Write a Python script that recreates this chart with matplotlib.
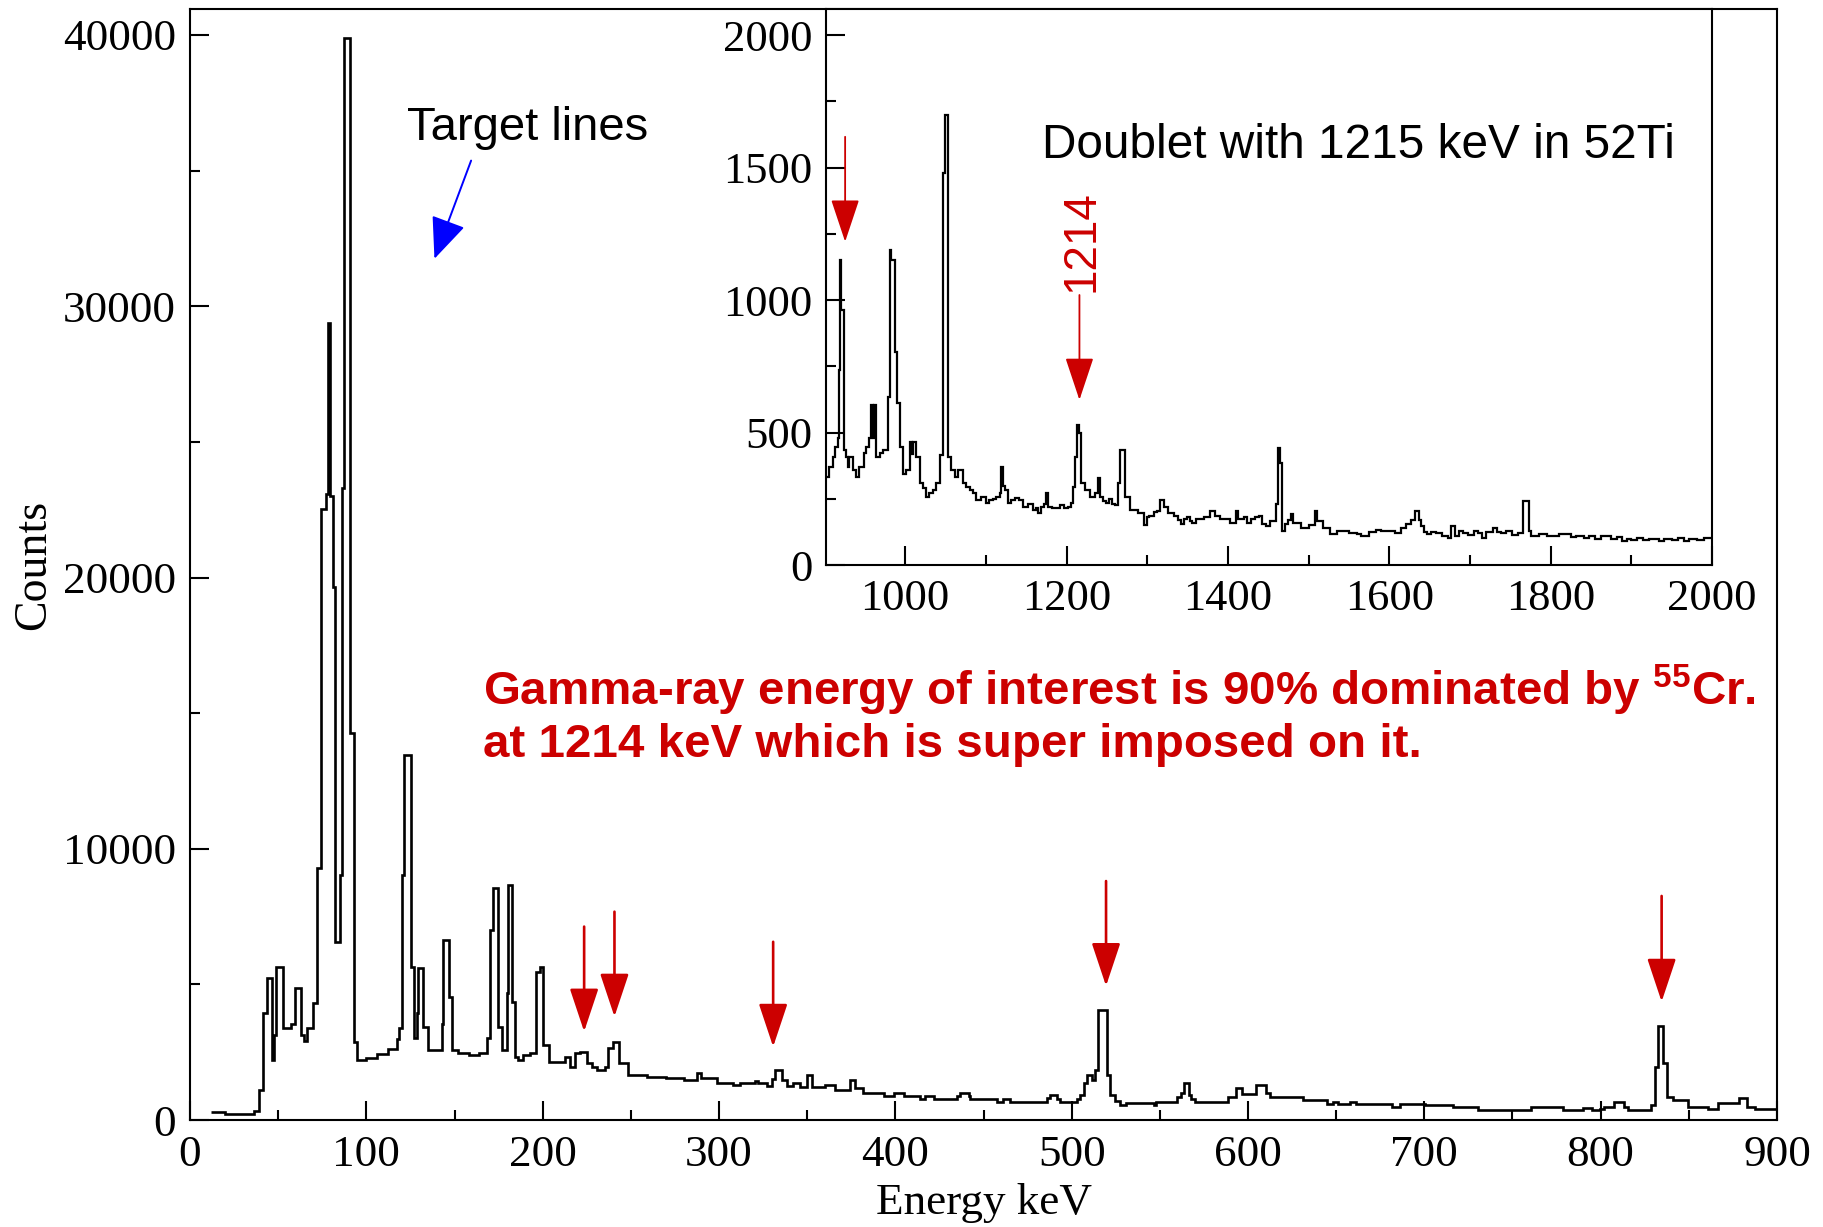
import numpy as np
import matplotlib.pyplot as plt
from matplotlib.ticker import MultipleLocator

# main spectrum: start energy of each step (keV) and its counts
main_start = [12, 20, 36, 39, 41.2, 43.4, 46.2, 47.4, 48.8, 52.5, 57, 59.6, 62.8, 64.5, 66.2,
              69.6, 71.8, 74.3, 77.1, 78.5, 79.5, 80.9, 82.2, 85.0, 85.9, 87.3, 90.7, 93.0, 94.5,
              100, 106, 112, 117.2, 118.5, 120, 121.6, 125.3, 126.8, 128.7, 129.5, 132.2, 135.2,
              142.7, 143.7, 147.1, 148.4, 152, 158, 164, 168.6, 170.2, 171.7, 174.9, 176.8, 179.6,
              180.6, 182.5, 184.3, 186.2, 189, 193, 196.3, 198.5, 200.4, 203.3, 212.7, 215.5, 218.4,
              221.2, 225, 227.8, 230.7, 235.4, 237.3, 240.1, 243, 248.6, 259, 270, 280, 287.4, 290,
              298.7, 308, 312, 320.5, 322, 327.1, 330, 331.8, 335.6, 338.4, 342, 346, 349.8, 352.6,
              360, 365.8, 374.4, 377.2, 381.9, 393.3, 399, 405, 414.1, 417, 422, 434.9, 436.8, 441.5,
              442.5, 457.6, 461, 465, 486, 487.9, 491.7, 493.6, 503, 504.9, 506.8, 508.7, 511.5,
              513.4, 514.7, 520, 521.9, 524.7, 527.6, 531, 540, 546.9, 548, 559.6, 561.9, 563.8,
              566.5, 567.7, 570, 588.4, 593.1, 596.5, 604.6, 610.4, 612.5, 631.2, 645, 648, 651,
              658, 661, 681.9, 686, 700.4, 716.5, 730.4, 760.4, 778.8, 790, 795, 799.6, 802, 807.7,
              813.4, 815.8, 828.4, 830.8, 832.4, 835.4, 837.7, 841.2, 849.3, 860.8, 866.6, 878.2,
              882.8, 887.4]
main_counts = [300, 230, 350, 1100, 3930, 5240, 2230, 3140, 5630, 3400, 3540, 4850, 3140, 2900, 3400,
               4320, 9300, 22530, 23060, 29400, 23000, 19650, 6550, 9040, 23300, 39880, 14280, 2880, 2230,
               2300, 2450, 2620, 3000, 3400, 9040, 13440, 5630, 3010, 3930, 5590, 3440, 2580,
               3550, 6630, 4540, 2580, 2460, 2400, 2460, 3010, 7000, 8550, 3440, 2580, 4670,
               8660, 4360, 2340, 2210, 2400, 2460, 5460, 5650, 2760, 2150, 2340, 1960, 2460,
               2520, 2090, 1960, 1840, 1960, 2640, 2890, 2090, 1660, 1600, 1560, 1470, 1720, 1560,
               1350, 1290, 1352, 1450, 1352, 1250, 1530, 1840, 1480, 1250, 1350, 1230, 1650, 1230,
               1290, 1110, 1480, 1170, 1000, 880, 1000, 880, 780, 880, 780, 880, 1000, 880,
               780, 660, 780, 660, 810, 910, 780, 660, 760, 930, 1350, 1650, 1480,
               1840, 4060, 1650, 930, 700, 570, 640, 615, 553, 676, 860, 983, 1350,
               920, 760, 676, 860, 1170, 960, 1290, 1000, 835, 740, 590, 676, 590,
               680, 590, 490, 590, 553, 490, 370, 490, 370, 430, 370, 400, 490, 676,
               490, 370, 553, 1970, 3470, 2090, 860, 740, 490, 395, 615, 800,
               490, 395]
main_end = 900

# inset spectrum
ins_start = [902, 906.2, 910.4, 912.5, 916.6, 917.9, 919.5, 921, 923.6, 926.9, 929, 931, 935.2, 939.3,
             943.4, 949.6, 951.7, 955, 957.9, 960, 961.5, 963.3, 968.3, 972, 978.6, 980.7, 983, 986.9,
             989.8, 993.1, 997.2, 1001, 1005.5, 1008, 1010, 1013.8, 1017.9, 1022, 1026.2, 1030, 1034.4,
             1038, 1042.7, 1046.8, 1048.9, 1053, 1057.2, 1061.3, 1066, 1071.6, 1076, 1079.9, 1084,
             1088.2, 1094, 1100.6, 1104, 1108.8, 1113, 1117.1, 1119.2, 1121, 1123.3, 1127.4, 1131,
             1136, 1141, 1146, 1152, 1158.4, 1162, 1164.6, 1168, 1172, 1175, 1177, 1182, 1187.4, 1192,
             1197, 1202, 1206, 1208, 1210.1, 1213, 1216, 1218.4, 1222.5, 1228.7, 1234.9, 1239, 1241.1,
             1245, 1249.4, 1253, 1256, 1259.7, 1263.8, 1265.9, 1272.1, 1278.3, 1288.6, 1296, 1300,
             1302.3, 1308, 1311.6, 1316.3, 1321, 1325.7, 1332.7, 1338, 1342.1, 1346, 1349.1, 1353,
             1356.1, 1360, 1363.2, 1370, 1377.2, 1384.3, 1390, 1396, 1403, 1410, 1413, 1419.4, 1424,
             1428.8, 1433, 1438.1, 1442.8, 1447.5, 1452.2, 1459.2, 1461.5, 1464.3, 1467.1, 1470.9,
             1474, 1477.9, 1481, 1490, 1500, 1508.4, 1511, 1518, 1527.1, 1535, 1550, 1559.9, 1565,
             1575, 1583.3, 1590, 1606.8, 1614, 1620.8, 1627, 1632.5, 1637.2, 1639.6, 1643, 1646.6,
             1652, 1658.3, 1665, 1672.4, 1677, 1681.7, 1687, 1691.1, 1698, 1705.2, 1710, 1714.5, 1720,
             1728.6, 1733, 1738, 1745, 1752, 1760, 1766.1, 1773.1, 1776, 1785, 1795, 1810, 1825, 1832,
             1841, 1848, 1855, 1862, 1869.1, 1875, 1882, 1887.9, 1895, 1900, 1906.6, 1915, 1922,
             1934.7, 1940, 1950, 1958.1, 1965, 1972, 1981.5, 1990]
ins_counts = [333, 371, 409, 447, 478, 736, 1151, 962, 434, 409, 371, 409, 358, 333,
              371, 421, 447, 480, 604, 480, 604, 409, 421, 434, 635, 1189, 1150, 805,
              610, 446, 345, 358, 465, 420, 465, 409, 308, 289, 258, 270, 283,
              308, 415, 1478, 1698, 409, 358, 333, 358, 308, 295, 283, 270,
              245, 258, 233, 245, 251, 258, 270, 371, 300, 283, 233, 245,
              252, 245, 220, 230, 208, 215, 195, 220, 230, 270, 220, 215, 214, 225,
              215, 220, 233, 296, 409, 528, 500, 308, 283, 258, 270, 327, 258,
              240, 233, 250, 230, 226, 308, 434, 258, 208, 195, 150, 180,
              185, 200, 204, 244, 219, 197, 185, 170, 153, 175, 180, 165,
              160, 175, 172, 180, 204, 185, 175, 172, 160, 204, 175, 180, 160,
              172, 180, 185, 153, 147, 166, 229, 443, 386, 128, 153,
              170, 191, 160, 141, 150, 204, 166, 141, 116, 128, 120, 116, 110,
              125, 134, 128, 122, 140, 153, 170, 204, 170, 147, 125, 116,
              125, 122, 110, 103, 147, 110, 128, 122, 115, 128, 120, 103, 125,
              141, 125, 122, 130, 115, 120, 242, 128, 110, 116, 110, 116, 105, 110,
              103, 110, 100, 108, 110, 100, 105, 91, 100, 95, 103, 96, 100,
              91, 100, 95, 103, 92, 100, 96, 103]
ins_end = 2000

# red arrows: x position, tail height, tip height
main_arrow_x = [223.5, 240.7, 330.7, 519.5, 834.6]
main_arrow_tail = [7130, 7680, 6570, 8810, 8260]
main_arrow_tip = [3260, 3810, 2700, 4940, 4360]
ins_arrow_x = [925.6, 1216]
ins_arrow_tail = [1616, 1019]
ins_arrow_tip = [1220, 623]

red = '#cc0000'
plt.rcParams['font.family'] = ['Liberation Serif', 'DejaVu Serif']
plt.rcParams['mathtext.fontset'] = 'custom'
plt.rcParams['mathtext.rm'] = 'Liberation Sans:bold'
plt.rcParams['mathtext.bf'] = 'Liberation Sans:bold'

fig = plt.figure(figsize=(18.24, 12.27), dpi=100)
ax = fig.add_axes([0.1042, 0.0872, 0.870, 0.9055])
ax.stairs(main_counts, np.append(main_start, main_end), baseline=None, color='black', lw=1.9)
ax.set_xlim(0, 900)
ax.set_ylim(0, 40960)
ax.xaxis.set_major_locator(MultipleLocator(100))
ax.xaxis.set_minor_locator(MultipleLocator(50))
ax.yaxis.set_major_locator(MultipleLocator(10000))
ax.yaxis.set_minor_locator(MultipleLocator(5000))
ax.tick_params(which='both', direction='in', width=1.5, labelsize=32.5)
ax.tick_params(which='major', length=14)
ax.tick_params(which='minor', length=7)
ax.tick_params(axis='x', pad=11)
ax.tick_params(axis='y', pad=10)
for s in ax.spines.values():
    s.set_linewidth(1.5)
ax.set_xlabel('Energy keV', fontsize=32.5)
ax.set_ylabel('Counts', fontsize=33)
ax.xaxis.set_label_coords(0.5, -0.057)
ax.yaxis.set_label_coords(-0.085, 0.5)

for x, y0, y1 in zip(main_arrow_x, main_arrow_tail, main_arrow_tip):
    ax.annotate('', xy=(x, y1), xytext=(x, y0),
                arrowprops=dict(arrowstyle='-|>,head_length=2.7,head_width=0.9', mutation_scale=10,
                                color=red, lw=1.9, shrinkA=0, shrinkB=0))

ax.annotate('', xy=(138.6, 31750), xytext=(159.4, 35370),
            arrowprops=dict(arrowstyle='-|>,head_length=2.6,head_width=1.1', mutation_scale=10,
                            color='#0000ff', lw=1.4, shrinkA=0, shrinkB=0))
ax.text(123, 36120, 'Target lines', family='Liberation Sans', fontsize=34, color='black')

ax.text(166.2, 15300, r'Gamma-ray energy of interest is 90% dominated by $^{\mathbf{55}}$Cr.',
        family='Liberation Sans', fontweight='bold', fontsize=34.2, color=red)
ax.text(166.2, 13380, 'at 1214 keV which is super imposed on it.',
        family='Liberation Sans', fontweight='bold', fontsize=34.2, color=red)

# inset
ins = fig.add_axes([0.4529, 0.5395, 0.4857, 0.4531])
ins.stairs(ins_counts, np.append(ins_start, ins_end), baseline=None, color='black', lw=1.6)
ins.set_xlim(902, 2000)
ins.set_ylim(0, 2098)
ins.xaxis.set_major_locator(MultipleLocator(200))
ins.xaxis.set_minor_locator(MultipleLocator(100))
ins.yaxis.set_major_locator(MultipleLocator(500))
ins.yaxis.set_minor_locator(MultipleLocator(250))
ins.tick_params(which='both', direction='in', width=1.5, labelsize=32)
ins.tick_params(which='major', length=14)
ins.tick_params(which='minor', length=7)
ins.tick_params(axis='x', pad=10)
ins.tick_params(axis='y', pad=10)
for s in ins.spines.values():
    s.set_linewidth(1.5)

for x, y0, y1 in zip(ins_arrow_x, ins_arrow_tail, ins_arrow_tip):
    ins.annotate('', xy=(x, y1), xytext=(x, y0),
                 arrowprops=dict(arrowstyle='-|>,head_length=2.7,head_width=0.9', mutation_scale=10,
                                 color=red, lw=1.3, shrinkA=0, shrinkB=0))
ins.text(1218, 1030, '1214', rotation=90, ha='center', va='bottom',
         family='Liberation Sans', fontsize=33, color=red)
ins.text(1170, 1536, 'Doublet with 1215 keV in 52Ti', family='Liberation Sans',
         fontsize=34.4, color='black')

fig.savefig('out.png', dpi=100)
